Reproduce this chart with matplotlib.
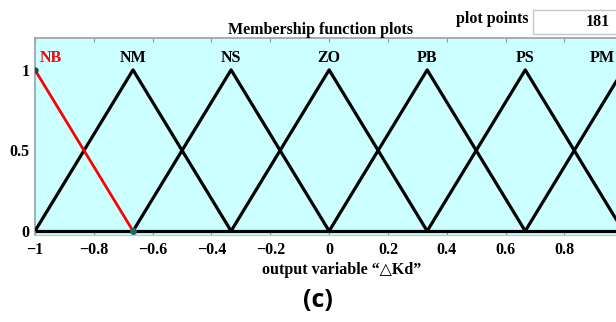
import matplotlib
matplotlib.use("Agg")
import matplotlib.pyplot as plt
from matplotlib.patches import Rectangle

# Membership functions of the output variable (triangular: left, peak, right)
mf_names = ["NB", "NM", "NS", "ZO", "PB", "PS", "PM"]
mf_left = [-1.0, -1.0, -2/3, -1/3, 0.0, 1/3, 2/3]
mf_peak = [-1.0, -2/3, -1/3, 0.0, 1/3, 2/3, 1.0]
mf_right = [-2/3, -1/3, 0.0, 1/3, 2/3, 1.0, 4/3]
mf_colors = ["#ff0000", "k", "k", "k", "k", "k", "k"]

x_ticks = [-1, -0.8, -0.6, -0.4, -0.2, 0, 0.2, 0.4, 0.6, 0.8]
x_tick_labels = ["\u22121", "\u22120.8", "\u22120.6", "\u22120.4", "\u22120.2", "0", "0.2", "0.4", "0.6", "0.8"]
y_ticks = [0, 0.5, 1]
y_tick_labels = ["0", "0.5", "1"]
plot_points = 181

serif = ["Liberation Serif", "DejaVu Serif"]
fs = 11.5

fig = plt.figure(figsize=(6.16, 3.22), dpi=100)
ax = fig.add_axes([0.0568, 0.270, 0.955, 0.613])
ax.set_facecolor("#ccffff")
ax.set_xlim(-1, 1)
ax.set_ylim(-0.025, 1.2)

# black functions first, the selected one (red) on top
order = list(range(1, len(mf_names))) + [0]
for i in order:
    xs = [mf_left[i], mf_peak[i], mf_right[i]]
    ys = [1.0 if mf_left[i] == mf_peak[i] else 0.0, 1.0, 0.0]
    ax.plot(xs, ys, color=mf_colors[i], lw=2.3 if mf_colors[i] == "k" else 2.0,
            solid_capstyle="butt", zorder=3 if i else 4)

# function names above the peaks; the first and last are kept inside the frame
for i, name in enumerate(mf_names):
    if i == 0:
        x, ha = mf_peak[i] + 0.015, "left"
    elif i == len(mf_names) - 1:
        x, ha = 0.970, "right"
    else:
        x, ha = mf_peak[i], "center"
    ax.text(x, 1.025, name, ha=ha, va="bottom", color=mf_colors[i],
            fontsize=fs, fontweight="bold", family=serif)

ax.axhline(0, color="k", lw=2.3, zorder=2)
ax.plot([-1], [1], "o", ms=3.5, color="#224444", zorder=5)
ax.plot([-2/3], [0], "o", ms=4, color="#226666", zorder=5)

ax.set_xticks(x_ticks)
ax.set_xticklabels(x_tick_labels, fontsize=fs, fontweight="bold", family=serif)
ax.set_yticks(y_ticks)
ax.set_yticklabels(y_tick_labels, fontsize=fs, fontweight="bold", family=serif)
ax.tick_params(axis="x", direction="in", length=3, color="#8899aa", top=True, pad=5)
ax.tick_params(axis="y", direction="in", length=0, pad=4)
for side in ["top", "left"]:
    ax.spines[side].set_color("#9aa0a6")
    ax.spines[side].set_linewidth(1.2)
ax.spines["bottom"].set_color("#e8b0b0")
ax.spines["right"].set_visible(False)

ax.set_xlabel("output variable \u201c\u25b3Kd\u201d", fontsize=fs, fontweight="bold",
              family=serif + ["DejaVu Sans"])
ax.xaxis.set_label_coords(0.522, -0.135)

fig.text(0.520, 0.908, "Membership function plots", ha="center", va="center",
         fontsize=fs, fontweight="bold", family=serif)
fig.text(0.740, 0.940, "plot points", ha="left", va="center",
         fontsize=fs, fontweight="bold", family=serif)
box = Rectangle((0.865, 0.895), 0.2, 0.075, transform=fig.transFigure,
                facecolor="white", edgecolor="#c8c8c8", lw=1.0)
fig.add_artist(box)
fig.text(0.990, 0.932, str(plot_points), ha="right", va="center",
         fontsize=fs, fontweight="bold", family=serif)

fig.text(0.516, 0.068, "(c)", ha="center", va="center", fontsize=18,
         fontweight="bold", family=["Open Sans", "DejaVu Sans"])

fig.savefig("out.png", dpi=100)
